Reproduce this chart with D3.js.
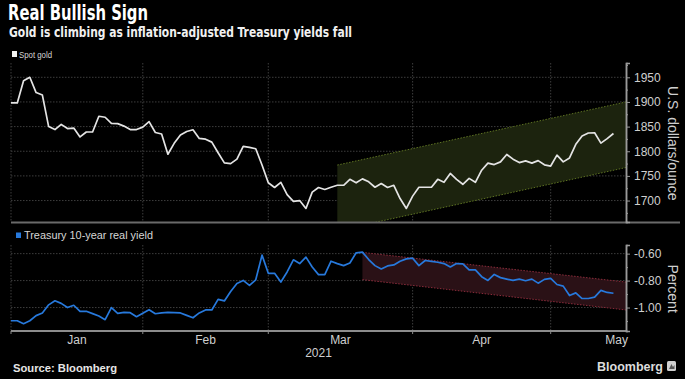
<!DOCTYPE html>
<html>
<head>
<meta charset="utf-8">
<script src="https://cdn.jsdelivr.net/npm/d3@7"></script>
<style>
  html, body { margin: 0; padding: 0; background: #000; }
  svg { display: block; }
  text { font-family: "Liberation Sans", Arial, sans-serif; }
</style>
</head>
<body>
<svg id="chart" width="685" height="379"></svg>
<script>
// ---------------- DATA ----------------
// One value per weekday, 2020-12-31 (index 0) through 2021-05-14 (index 96)
const goldValues = [
  1898, 1898, 1943, 1950, 1919, 1914, 1850, 1844, 1854.5, 1846,
  1847, 1829, 1839, 1839, 1871, 1869, 1856.5, 1856, 1851, 1844,
  1844, 1849, 1860, 1838, 1835, 1794, 1816, 1833, 1840, 1843.5,
  1826, 1824.5, 1818.5, 1797, 1776.5, 1775, 1784, 1810, 1808, 1805,
  1772, 1736, 1726.5, 1737, 1712, 1698.5, 1700, 1684, 1717, 1726.5,
  1722.5, 1727, 1731, 1731, 1743, 1736, 1744, 1738, 1727, 1734.5,
  1726.5, 1731, 1704, 1684, 1709, 1727, 1727, 1727, 1743, 1737,
  1755, 1743, 1733, 1745, 1737, 1761.5, 1776, 1773, 1778.5, 1793.5,
  1784, 1777, 1780.5, 1776, 1781, 1772.5, 1770, 1792, 1778.5, 1786.5,
  1814, 1831, 1837, 1837.5, 1816.5, 1825.5, 1836
];
const yieldValues = [
  -1.098, -1.098, -1.12, -1.098, -1.06, -1.04, -0.98, -0.95, -0.969, -1.0,
  -0.983, -1.028, -1.028, -1.045, -1.063, -1.09, -1.0, -1.043, -1.036, -1.038,
  -1.068, -1.043, -1.016, -1.046, -1.04, -1.036, -1.038, -1.04, -1.058, -1.076,
  -1.04, -1.018, -1.018, -0.939, -0.951, -0.881, -0.821, -0.799, -0.836, -0.794,
  -0.611, -0.746, -0.746, -0.811, -0.736, -0.646, -0.674, -0.626, -0.699, -0.756,
  -0.756, -0.656, -0.674, -0.689, -0.669, -0.594, -0.589, -0.644, -0.689, -0.714,
  -0.691, -0.684, -0.656, -0.639, -0.634, -0.689, -0.651, -0.658, -0.664, -0.674,
  -0.699, -0.674, -0.676, -0.721, -0.721, -0.771, -0.799, -0.754, -0.778, -0.789,
  -0.799, -0.789, -0.801, -0.789, -0.819, -0.791, -0.784, -0.829, -0.841, -0.911,
  -0.891, -0.933, -0.933, -0.923, -0.873, -0.888, -0.894
];
// Month boundaries (index of last weekday of each month: Dec, Jan, Feb, Mar, Apr, May)
const monthBounds = [0, 21, 41, 64, 86, 107];
const monthLabels = ["Jan", "Feb", "Mar", "Apr", "May"];
const yearLabel = "2021";
const goldTicks = [1700, 1750, 1800, 1850, 1900, 1950];
const goldMinorTicks = [1675, 1725, 1775, 1825, 1875, 1925, 1975];
const yieldTicks = [-1.0, -0.8, -0.6];
const yieldMinorTicks = [-1.1, -0.9, -0.7];
// Trend channels: [startIndex, endIndex], upper [start,end], lower [start,end]
const goldChannelX = [52, 98];
const goldChannelUpper = [1772, 1900];
const goldChannelLower = [1639, 1767];
const yieldChannelX = [56, 98];
const yieldChannelUpper = [-0.591, -0.811];
const yieldChannelLower = [-0.793, -1.018];

// ---------------- LAYOUT ----------------
const svg = d3.select("#chart");
svg.append("rect").attr("width", 685).attr("height", 379).attr("fill", "#000");

const x = d3.scaleLinear().domain([0, 98]).range([11, 626]);
const yG = d3.scaleLinear().domain([1656.5, 1979]).range([222, 63]);
const yY = d3.scaleLinear().domain([-1.174, -0.536]).range([331, 245]);

const gridColor = "#3d3d3d";
const defs = svg.append("defs");
defs.append("clipPath").attr("id", "clipTop").append("rect")
  .attr("x", x(0)).attr("y", yG.range()[1]).attr("width", x(98) - x(0)).attr("height", yG.range()[0] - yG.range()[1]);
defs.append("clipPath").attr("id", "clipBot").append("rect")
  .attr("x", x(0)).attr("y", yY.range()[1]).attr("width", x(98) - x(0)).attr("height", yY.range()[0] - yY.range()[1]);

function panel(y, ticks, clipId) {
  const g = svg.append("g");
  // horizontal grid
  g.selectAll(".hg").data(ticks).join("line")
    .attr("x1", x(0)).attr("x2", x(98))
    .attr("y1", d => y(d)).attr("y2", d => y(d))
    .attr("stroke", gridColor).attr("stroke-width", 1).attr("stroke-dasharray", "1.5,1.5");
  // vertical grid
  g.selectAll(".vg").data(monthBounds.slice(0, 5)).join("line")
    .attr("x1", d => x(d)).attr("x2", d => x(d))
    .attr("y1", y.range()[1]).attr("y2", y.range()[0])
    .attr("stroke", gridColor).attr("stroke-width", 1).attr("stroke-dasharray", "1.5,1.5");
  return g;
}

// ---------- TOP PANEL ----------
panel(yG, goldTicks, "clipTop");
const chTop = svg.append("g").attr("clip-path", "url(#clipTop)");
const gPoly = [
  [goldChannelX[0], goldChannelUpper[0]], [goldChannelX[1], goldChannelUpper[1]],
  [goldChannelX[1], goldChannelLower[1]], [goldChannelX[0], goldChannelLower[0]]
];
chTop.append("path")
  .attr("d", "M" + gPoly.map(p => [x(p[0]), yG(p[1])].join(",")).join("L") + "Z")
  .attr("fill", "#1c230e").attr("fill-opacity", 1);
[goldChannelUpper, goldChannelLower].forEach(edge => {
  chTop.append("line")
    .attr("x1", x(goldChannelX[0])).attr("y1", yG(edge[0]))
    .attr("x2", x(goldChannelX[1])).attr("y2", yG(edge[1]))
    .attr("stroke", "#5d7222").attr("stroke-width", 1).attr("stroke-dasharray", "1.5,1.5");
});
chTop.append("path")
  .datum(goldValues)
  .attr("fill", "none").attr("stroke", "#e4e4e4").attr("stroke-width", 1.7)
  .attr("stroke-linejoin", "round")
  .attr("d", d3.line().x((d, i) => x(i)).y(d => yG(d)));

// ---------- BOTTOM PANEL ----------
panel(yY, yieldTicks, "clipBot");
const chBot = svg.append("g").attr("clip-path", "url(#clipBot)");
const yPoly = [
  [yieldChannelX[0], yieldChannelUpper[0]], [yieldChannelX[1], yieldChannelUpper[1]],
  [yieldChannelX[1], yieldChannelLower[1]], [yieldChannelX[0], yieldChannelLower[0]]
];
chBot.append("path")
  .attr("d", "M" + yPoly.map(p => [x(p[0]), yY(p[1])].join(",")).join("L") + "Z")
  .attr("fill", "#2a1116");
[yieldChannelUpper, yieldChannelLower].forEach(edge => {
  chBot.append("line")
    .attr("x1", x(yieldChannelX[0])).attr("y1", yY(edge[0]))
    .attr("x2", x(yieldChannelX[1])).attr("y2", yY(edge[1]))
    .attr("stroke", "#8a2b3a").attr("stroke-width", 1).attr("stroke-dasharray", "1.5,1.5");
});
chBot.append("path")
  .datum(yieldValues)
  .attr("fill", "none").attr("stroke", "#2779dc").attr("stroke-width", 1.7)
  .attr("stroke-linejoin", "round")
  .attr("d", d3.line().x((d, i) => x(i)).y(d => yY(d)));

// ---------- AXES ----------
const axisColor = "#9a9a9a";
// top panel baseline (extends to right edge)
svg.append("line").attr("x1", x(0)).attr("x2", 680).attr("y1", 222.5).attr("y2", 222.5)
  .attr("stroke", "#6a6a6a").attr("stroke-width", 2);
// bottom panel baseline
svg.append("line").attr("x1", x(0)).attr("x2", x(98) + 1).attr("y1", 331).attr("y2", 331)
  .attr("stroke", "#8c8c8c").attr("stroke-width", 2);
// bottom ticks
svg.selectAll(".bt").data(monthBounds.slice(0, 5)).join("line")
  .attr("x1", d => x(d)).attr("x2", d => x(d)).attr("y1", 331).attr("y2", 334)
  .attr("stroke", "#8c8c8c").attr("stroke-width", 1);

// right y axes
const axG = svg.append("g").attr("transform", `translate(${x(98)},0)`)
  .call(d3.axisRight(yG).tickValues(goldTicks).tickSize(4).tickPadding(4).tickFormat(d3.format("d")));
const axGm = svg.append("g").attr("transform", `translate(${x(98)},0)`)
  .call(d3.axisRight(yG).tickValues(goldMinorTicks).tickSize(2).tickFormat(""));
const axY = svg.append("g").attr("transform", `translate(${x(98)},0)`)
  .call(d3.axisRight(yY).tickValues(yieldTicks).tickSize(4).tickPadding(4).tickFormat(d3.format(".2f")));
const axYm = svg.append("g").attr("transform", `translate(${x(98)},0)`)
  .call(d3.axisRight(yY).tickValues(yieldMinorTicks).tickSize(2).tickFormat(""));
[axG, axGm, axY, axYm].forEach(a => {
  a.select(".domain").attr("stroke", axisColor).attr("stroke-width", 1.5);
  a.selectAll(".tick line").attr("stroke", axisColor);
  a.selectAll(".tick text").attr("fill", "#cfcfcf").style("font-size", "12px")
    .style("font-family", "'Liberation Sans', Arial, sans-serif");
});
axY.selectAll(".tick text").text(d => d3.format(".2f")(d).replace("−", "-"));

// axis titles
svg.append("text").attr("transform", `translate(668,${yG(1800) - 8}) rotate(90)`)
  .attr("text-anchor", "middle").attr("fill", "#cfcfcf").style("font-size", "14px")
  .text("U.S. dollars/ounce");
svg.append("text").attr("transform", `translate(668,${yY(-0.86)}) rotate(90)`)
  .attr("text-anchor", "middle").attr("fill", "#cfcfcf").style("font-size", "14px")
  .text("Percent");

// month labels
svg.selectAll(".ml").data(monthLabels).join("text")
  .attr("x", (d, i) => x((monthBounds[i] + monthBounds[i + 1]) / 2))
  .attr("y", 344).attr("text-anchor", "middle").attr("fill", "#cfcfcf")
  .style("font-size", "12px").text(d => d);
svg.append("text").attr("x", (x(0) + x(98)) / 2).attr("y", 357).attr("text-anchor", "middle")
  .attr("fill", "#cfcfcf").style("font-size", "12px").text(yearLabel);

// ---------- TITLES & LEGENDS ----------
svg.append("text").attr("x", 8).attr("y", 20).attr("fill", "#ffffff")
  .style("font-size", "21px").style("font-weight", "bold")
  .style("font-family", "'DejaVu Sans Condensed','Liberation Sans Narrow','Liberation Sans',sans-serif")
  .attr("textLength", 140).attr("lengthAdjust", "spacingAndGlyphs")
  .text("Real Bullish Sign");
svg.append("text").attr("x", 9).attr("y", 36.5).attr("fill", "#f0f0f0")
  .style("font-size", "14px").style("font-weight", "bold")
  .style("font-family", "'DejaVu Sans Condensed','Liberation Sans Narrow','Liberation Sans',sans-serif")
  .attr("textLength", 343).attr("lengthAdjust", "spacingAndGlyphs")
  .text("Gold is climbing as inflation-adjusted Treasury yields fall");

svg.append("rect").attr("x", 12).attr("y", 51).attr("width", 5).attr("height", 6).attr("fill", "#f2f2f2");
svg.append("text").attr("x", 19).attr("y", 57.5).attr("fill", "#d6d6d6")
  .style("font-size", "9.5px").attr("textLength", 33).attr("lengthAdjust", "spacingAndGlyphs")
  .text("Spot gold");

svg.append("rect").attr("x", 16).attr("y", 232.5).attr("width", 5).attr("height", 5.5).attr("fill", "#2779dc");
svg.append("text").attr("x", 24).attr("y", 238.5).attr("fill", "#d6d6d6")
  .style("font-size", "10px").attr("textLength", 129).attr("lengthAdjust", "spacingAndGlyphs")
  .text("Treasury 10-year real yield");

svg.append("text").attr("x", 13).attr("y", 371.5).attr("fill", "#e6e6e6")
  .style("font-size", "10px").style("font-weight", "bold")
  .attr("textLength", 104).attr("lengthAdjust", "spacingAndGlyphs")
  .text("Source: Bloomberg");

svg.append("text").attr("x", 597).attr("y", 371).attr("fill", "#dcdcdc")
  .style("font-size", "13px").style("font-weight", "bold")
  .attr("textLength", 66).attr("lengthAdjust", "spacingAndGlyphs")
  .text("Bloomberg");
svg.append("rect").attr("x", 667).attr("y", 361).attr("width", 9).attr("height", 10)
  .attr("rx", 1.5).attr("fill", "#d0d0d0");
svg.append("path").attr("d", "M669,369 L671.5,364 L673,367 L674.5,365 L674.5,369 Z").attr("fill", "#555");
</script>
</body>
</html>
